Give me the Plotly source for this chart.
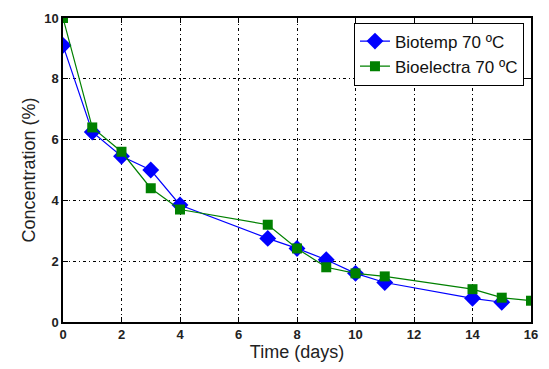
import plotly.graph_objects as go

days_biotemp = [0, 1, 2, 3, 4, 7, 8, 9, 10, 11, 14, 15]
conc_biotemp = [9.1, 6.25, 5.45, 5.0, 3.85, 2.75, 2.42, 2.05, 1.6, 1.3, 0.78, 0.65]
days_bioelectra = [0, 1, 2, 3, 4, 7, 8, 9, 10, 11, 14, 15, 16]
conc_bioelectra = [10.0, 6.4, 5.6, 4.4, 3.7, 3.2, 2.42, 1.8, 1.6, 1.5, 1.08, 0.8, 0.7]
x_ticks = [0, 2, 4, 6, 8, 10, 12, 14, 16]
y_ticks = [0, 2, 4, 6, 8, 10]

font = "Liberation Sans, Arial, sans-serif"

fig = go.Figure()
fig.add_trace(go.Scatter(
    x=days_biotemp, y=conc_biotemp, name="Biotemp 70 ºC",
    mode="lines+markers",
    line=dict(color="#0000ff", width=1.2),
    marker=dict(symbol="diamond", size=13, color="#0000ff"),
))
fig.add_trace(go.Scatter(
    x=days_bioelectra, y=conc_bioelectra, name="Bioelectra 70 ºC",
    mode="lines+markers",
    line=dict(color="#008000", width=1.2),
    marker=dict(symbol="square", size=10, color="#008000"),
))

axis_common = dict(
    showline=True, linecolor="black", linewidth=1.5, mirror="ticks",
    ticks="inside", ticklen=5, tickcolor="black", tickwidth=1.2,
    showgrid=True, gridcolor="black", gridwidth=1.1, griddash="3px,3px,1px,3px",
    zeroline=False,
    tickfont=dict(family=font, size=13, color="#222", weight="bold"),
)

fig.update_xaxes(range=[0, 16], tickvals=x_ticks, **axis_common,
                 title=dict(text="Time (days)", font=dict(family=font, size=18, color="#222"), standoff=2))
fig.update_yaxes(range=[0, 10], tickvals=y_ticks, **axis_common,
                 title=dict(text="Concentration (%)", font=dict(family=font, size=18, color="#222"), standoff=4))

fig.update_layout(
    width=549, height=369,
    margin=dict(l=63, r=17, t=11, b=47),
    paper_bgcolor="white", plot_bgcolor="white",
    showlegend=True,
    legend=dict(
        x=0.985, y=0.985, xanchor="right", yanchor="top",
        bgcolor="white", bordercolor="black", borderwidth=1,
        font=dict(family=font, size=17, color="#111"),
        tracegroupgap=0, itemwidth=30,
    ),
)

fig.write_html("out.html")
